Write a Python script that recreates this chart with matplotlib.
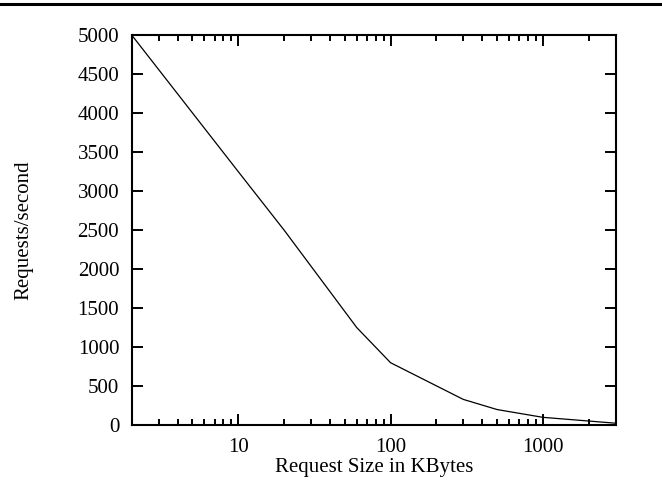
import numpy as np
import matplotlib
matplotlib.use('Agg')
import matplotlib.pyplot as plt
from matplotlib.lines import Line2D
from matplotlib.ticker import LogLocator, FixedLocator, NullFormatter

plt.rcParams['font.family'] = ['Liberation Serif', 'DejaVu Serif']

# request size (KBytes) vs throughput
size_kb = [2, 10, 20, 60, 100, 300, 500, 1000, 3000]
req_per_sec = [5000, 3250, 2500, 1250, 800, 330, 200, 100, 25]

xticks = [10, 100, 1000]
xticklabels = ['10', '100', '1000']
yticks = [0, 500, 1000, 1500, 2000, 2500, 3000, 3500, 4000, 4500, 5000]

fig = plt.figure(figsize=(6.62, 4.87), dpi=100)
ax = fig.add_axes([0.199, 0.127, 0.731, 0.801])

ax.plot(size_kb, req_per_sec, color='black', lw=0.9)

ax.set_xscale('log')
ax.set_xlim(2, 3000)
ax.set_ylim(0, 5000)
ax.xaxis.set_major_locator(FixedLocator(xticks))
ax.set_xticklabels(xticklabels)
ax.xaxis.set_minor_locator(LogLocator(base=10, subs=np.arange(2, 10)))
ax.xaxis.set_minor_formatter(NullFormatter())
ax.set_yticks(yticks)
ax.set_yticklabels([str(v) for v in yticks])

ax.tick_params(which='both', direction='in', top=True, right=True,
               labelsize=15, width=1.4, pad=9)
ax.tick_params(which='major', length=8)
ax.tick_params(which='minor', length=4)
for s in ax.spines.values():
    s.set_linewidth(1.5)

ax.set_xlabel('Request Size in KBytes', fontsize=15, labelpad=1)
ax.set_ylabel('Requests/second', fontsize=15, labelpad=32)

# rule at the top of the page
fig.add_artist(Line2D([0, 1], [0.992, 0.992], color='black', lw=2.2,
                      transform=fig.transFigure))

fig.savefig('out.png', dpi=100)
